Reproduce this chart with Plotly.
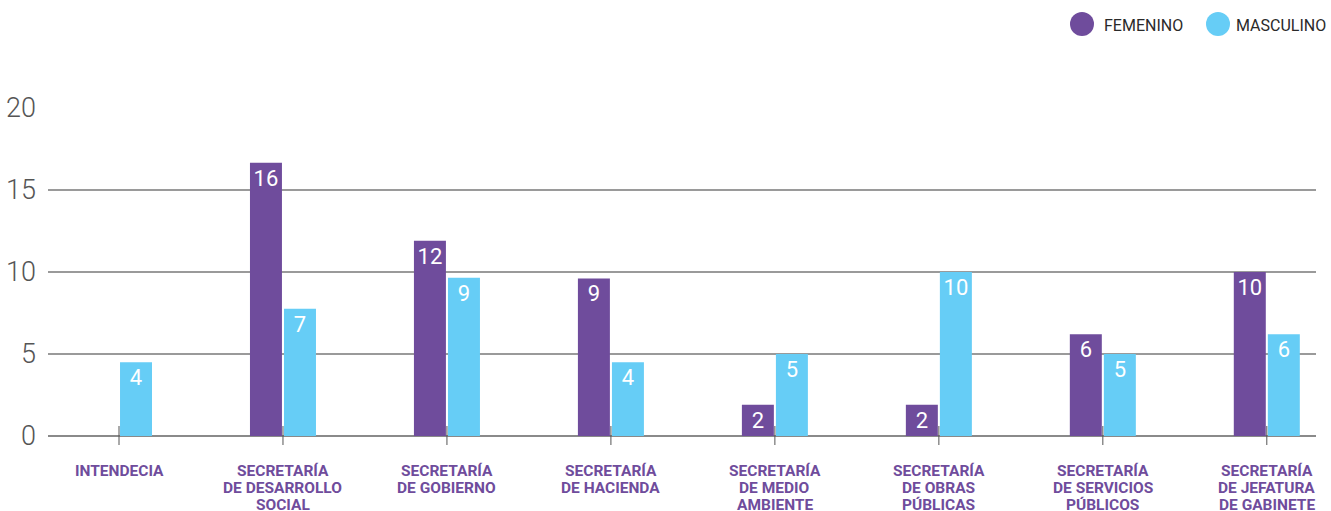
import plotly.graph_objects as go

categories = [
    "INTENDECIA",
    "SECRETARÍA<br>DE DESARROLLO<br>SOCIAL",
    "SECRETARÍA<br>DE GOBIERNO",
    "SECRETARÍA<br>DE HACIENDA",
    "SECRETARÍA<br>DE MEDIO<br>AMBIENTE",
    "SECRETARÍA<br>DE OBRAS<br>PÚBLICAS",
    "SECRETARÍA<br>DE SERVICIOS<br>PÚBLICOS",
    "SECRETARÍA<br>DE JEFATURA<br>DE GABINETE",
]
series_names = ["FEMENINO", "MASCULINO"]
# bar heights as drawn in the picture
femenino_values = [0, 16.65, 11.9, 9.6, 1.9, 1.9, 6.2, 10.0]
masculino_values = [4.5, 7.75, 9.65, 4.5, 5.0, 10.0, 5.0, 6.2]
# labels printed on the bars
femenino_labels = ["", "16", "12", "9", "2", "2", "6", "10"]
masculino_labels = ["4", "7", "9", "4", "5", "10", "5", "6"]
y_ticks = [0, 5, 10, 15, 20]

PURPLE = "#6f4c9c"
BLUE = "#66cdf6"
COLORS = [PURPLE, BLUE]
x_idx = list(range(len(categories)))

# plot area geometry in pixels
W, H = 1331, 511
L, R, T, B = 48, 15, 107, 75
PW, PH = W - L - R, H - T - B


def px_x(p):
    return (p - L) / PW


def px_y(p):
    return (H - B - p) / PH


fig = go.Figure()
for vals, labs, nm, col in [
    (femenino_values, femenino_labels, series_names[0], COLORS[0]),
    (masculino_values, masculino_labels, series_names[1], COLORS[1]),
]:
    fig.add_trace(go.Bar(
        x=x_idx, y=vals, name=nm, marker=dict(color=col, line=dict(width=0)),
        text=labs, textposition="inside", insidetextanchor="end", textangle=0,
        constraintext="none",
        textfont=dict(color="white", size=22, family="Roboto"), showlegend=False,
        hoverinfo="skip",
    ))

annotations = []
shapes = []
# category labels (one annotation per line)
for i, cat in enumerate(categories):
    for j, line in enumerate(cat.split("<br>")):
        annotations.append(dict(
            x=i, xref="x", y=0, yref="paper", yanchor="middle", xanchor="center",
            yshift=-(35 + 17 * j), text=line, showarrow=False,
            font=dict(family="Roboto", size=15.5, color=PURPLE, weight="bold"),
        ))
    # tick mark crossing the base line
    shapes.append(dict(
        type="line", xref="x", x0=i, x1=i, yref="paper", ysizemode="pixel", yanchor=0,
        y0=-9, y1=10, line=dict(color="#555555", width=1),
    ))

# legend drawn as circles + labels
legend_circles = [1082, 1218]
legend_texts = [1102, 1234]
for nm, col, cx, tx in zip(series_names, COLORS, legend_circles, legend_texts):
    shapes.append(dict(
        type="circle", xref="paper", yref="paper", xsizemode="pixel", ysizemode="pixel",
        xanchor=px_x(cx), yanchor=px_y(24), x0=-12, x1=12, y0=-12, y1=12,
        fillcolor=col, line=dict(width=0),
    ))
    annotations.append(dict(
        x=px_x(tx), xref="paper", y=px_y(25), yref="paper", xanchor="left", yanchor="middle",
        text=nm, showarrow=False, font=dict(family="Roboto", size=16, color="#2a2a2a"),
    ))

fig.update_layout(
    width=W, height=H,
    margin=dict(l=L, r=R, t=T, b=B, autoexpand=False),
    paper_bgcolor="white", plot_bgcolor="white",
    barmode="group", bargap=0.585, bargroupgap=0.06,
    showlegend=False,
    annotations=annotations, shapes=shapes,
    xaxis=dict(
        tickmode="array", tickvals=x_idx, ticktext=categories, showticklabels=False,
        range=[-0.433, 7.3], showgrid=False, zeroline=False, automargin=False,
        ticks="", showline=False,
    ),
    yaxis=dict(
        range=[0, 20.05], tickvals=y_ticks, showgrid=True, gridcolor="#9a9a9a", gridwidth=1.5,
        zeroline=True, zerolinecolor="#8a8a8a", zerolinewidth=1.5, automargin=False,
        tickfont=dict(family="Roboto", size=27, color="#555555", weight=300),
        ticklabelstandoff=11, showline=False,
    ),
)

fig.write_html(
    "out.html",
    config={"displayModeBar": False},
    post_script="document.body.style.margin='0';document.body.style.overflow='hidden';",
)
